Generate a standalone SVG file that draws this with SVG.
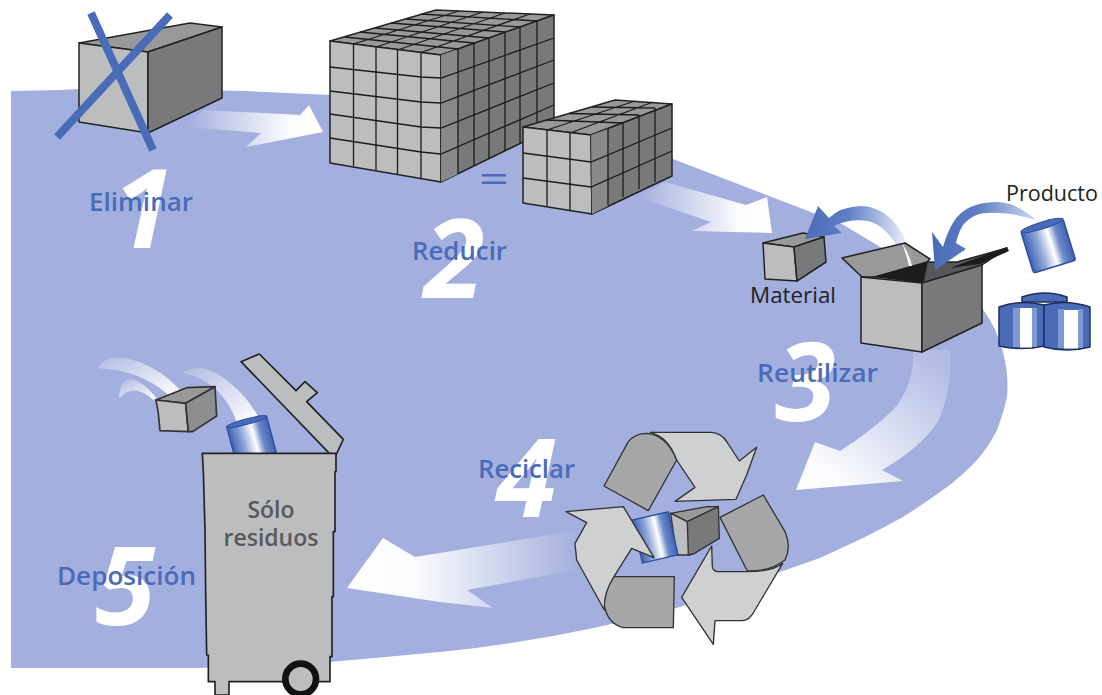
<svg xmlns="http://www.w3.org/2000/svg" width="1102" height="695" viewBox="0 0 1102 695">
<style>
.lbl{font-family:"Open Sans","Liberation Sans",sans-serif;font-weight:600;font-size:25px;fill:#4a6cb8}
.num{font-family:"Open Sans","Liberation Sans",sans-serif;font-weight:700;font-style:italic;font-size:110px;fill:#fff}
.cap{font-family:"Open Sans","Liberation Sans",sans-serif;font-size:21px;fill:#222}
.bin{font-family:"Open Sans","Liberation Sans",sans-serif;font-weight:600;font-size:23px;fill:#58595b;text-anchor:middle}
.e{stroke:#222;stroke-width:1.5;stroke-linejoin:round}
.g{fill:none;stroke:#1c1c1c;stroke-width:1.3}
.fr{fill:#bcbdbf}.si{fill:#77797b}.to{fill:#98999b}.md{fill:#a6a7a9}.lt{fill:#cfd0d2}
.bl{fill:#4a6cb8}
.cn{stroke:#1d2f60;stroke-width:1.500}
</style>
<defs>
<linearGradient id="wr" x1="0" x2="1" y1="0" y2="0"><stop offset="0" stop-color="#fff" stop-opacity="0"/><stop offset=".75" stop-color="#fff" stop-opacity=".95"/><stop offset="1" stop-color="#fff"/></linearGradient>
<linearGradient id="wl" x1="1" x2="0" y1="0" y2="0"><stop offset="0" stop-color="#fff" stop-opacity="0"/><stop offset=".7" stop-color="#fff" stop-opacity=".95"/><stop offset="1" stop-color="#fff"/></linearGradient>
<linearGradient id="wd" gradientUnits="userSpaceOnUse" x1="935" y1="355" x2="835" y2="480"><stop offset="0" stop-color="#fff" stop-opacity=".15"/><stop offset="1" stop-color="#fff" stop-opacity=".97"/></linearGradient>
<linearGradient id="tr" x1="0" x2="1" y1="0" y2="1"><stop offset="0" stop-color="#fff" stop-opacity=".15"/><stop offset="1" stop-color="#fff"/></linearGradient>
<linearGradient id="bw" x1="0" x2="1" y1="0" y2="0"><stop offset="0" stop-color="#4a6cb8"/><stop offset=".4" stop-color="#5f7fc4"/><stop offset=".75" stop-color="#b9c6e8"/><stop offset="1" stop-color="#fff"/></linearGradient>
<linearGradient id="bw2" x1="0" x2="1" y1="0" y2="0"><stop offset="0" stop-color="#4a6cb8"/><stop offset=".45" stop-color="#5f7fc4"/><stop offset="1" stop-color="#cfd8f0"/></linearGradient>
<linearGradient id="can" x1="0" x2="1" y1="0" y2="0"><stop offset="0" stop-color="#3f63b3"/><stop offset=".3" stop-color="#8ea6d9"/><stop offset=".58" stop-color="#fff"/><stop offset=".76" stop-color="#6d8acb"/><stop offset="1" stop-color="#3f63b3"/></linearGradient>
</defs>

<path id="ground" fill="#a3afdf" d="M11 91 L60 90 L100 88 L245 91 L330 95 L520 120 L673 159 L842 224 L982 308 Q997 328 1003 352 Q1009 375 1007 397 Q1003 415 997 430 Q989 446 977 460 Q963 475 947 487 Q925 503 903 517 Q883 528 863 538 L820 558 L680 607 Q560 640 440 652 L330 662 L200 668 L11 668 Z"/>

<g id="numbers">
<text x="113" y="248" class="num">1</text>
<text x="424" y="298" class="num">2</text>
<text x="775" y="421" class="num">3</text>
<text x="496" y="517" class="num">4</text>
<text x="95" y="625" class="num">5</text>
</g>

<g id="connectors">
<path fill="url(#wr)" d="M186 127 L204 110 L300 115 L309 105 L323 132 L246 147 L261 133 Z"/>
<path fill="url(#wr)" d="M638 197 L665 182 L746 205 L767 197 L772 233 L692 231 L711 222 Z"/>
<path fill="url(#wd)" d="M913 350 L950 350 Q953 390 937 423 Q920 448 882 470 L903 481 L796 490 L815 442 L840 451 Q870 432 893 410 Q915 385 913 350 Z"/>
<path fill="url(#wl)" d="M347 588 L383 538 L415 557 L580 530 L577 570 L467 590 L493 608 L440 602 Z"/>
</g>

<g id="node-eliminar">
<polygon class="to e" points="79,43 190,23 222,27 148,52"/>
<polygon class="fr e" points="79,43 148,52 148,133 79,122"/>
<polygon class="si e" points="148,52 222,27 222,98 148,133"/>
<path d="M91 13 L153 150 M170 15 L57 137" stroke="#4a6cb8" stroke-width="8" fill="none"/>
</g>

<g id="node-reducir-grande">
<polygon class="to e" points="330,41 436,10 554,15 441,55"/>
<polygon class="fr e" points="330,41 441,55 441,182 330,163"/>
<polygon class="si e" points="441,55 554,15 554,127 441,182"/>
<polygon fill="#87898b" points="441,55 458,49 458,174 441,182"/>
<path class="g" d="M353.500 44 L459 11 M376 47 L483 12 M397.500 50 L505 13 M421 52.500 L530 14 M345 37 L458 49 M360 32 L474 43 M375 28 L489 38 M391 23 L505 32 M406 19 L520 27 M421 14 L537 21"/>
<path class="g" d="M353.500 44 V166 M376 47 V170 M397.500 50 V174 M421 52.500 V179"/>
<path class="g" d="M330 67 L421 77 L441 78 L554 38 M330 91 L421 102 L441 103 L554 60 M330 114 L421 127 L441 128 L554 83 M330 138 L421 152 L441 154 L554 105"/>
<path class="g" d="M458 49 V174 M474 43 V166 M489 38 V159 M505 32 V151 M520 27 V143.500 M537 21 V135"/>
</g>

<text id="igual" x="479" y="192" font-family="Open Sans,Liberation Sans,sans-serif" font-size="36" fill="#4a6cb8" textLength="30" lengthAdjust="spacingAndGlyphs">=</text>

<g id="node-reducir-pequeno">
<polygon class="to e" points="523,127 615,100 672,104 591,135"/>
<polygon class="fr e" points="523,127 591,135 592,214 523,203"/>
<polygon class="si e" points="591,135 672,104 672,176 592,214"/>
<polygon fill="#87898b" points="591,135 608,129 608,206 592,214"/>
<path class="g" d="M547 130 L635 101 M570 133 L653 102 M546 120 L623 123 M569 113.500 L639 115 M592 107 L655 108"/>
<path class="g" d="M547 130 V207 M570 133 V211"/>
<path class="g" d="M523 153 L591 162 L672 128 M523 178 L591 187 L672 151"/>
<path class="g" d="M608 129 V205 M623 123 V197 M639 115 V189 M655 108 V182"/>
</g>

<g id="node-material">
<polygon class="to e" points="763,243 803,233 824,237 794,247"/>
<polygon class="fr e" points="763,243 794,247 797,281 765,279"/>
<polygon class="si e" points="794,247 824,237 826,262 797,281"/>
<path fill="url(#bw)" d="M913 268 C909 235 890 206 860 206 Q840 207 829 218 L818 206 L805 239 L842 233 L834 226 Q850 218 868 221 C885 225 900 245 906 268 Z"/>
<text x="750" y="303" class="cap" textLength="86" lengthAdjust="spacingAndGlyphs">Material</text>
</g>

<g id="node-caja">
<polygon class="to e" points="842,258 905,243 930,259 927,262 875,277 862,277"/>
<polygon fill="#1c1c1c" points="872,277 927,262 927,279 923,283"/>
<polygon fill="#55575a" class="e" points="923,283 927,262 957,262 1007,248 982,265"/>
<polygon fill="#1c1c1c" points="950,268 1007,247 1009,251 980,264"/>
<polygon class="fr e" points="861,277 922,283 922,352 861,343"/>
<polygon class="si e" points="922,283 982,265 982,323 922,352"/>
<path fill="#fff" fill-opacity=".9" d="M902 243 Q910 255 912 266 L909 266 Q906 254 902 243 Z"/>
<path fill="url(#bw2)" d="M1036 220 C1020 206 1008 202 995 202 C980 203 968 205 957 217 C950 226 946 237 943 247 L932 232 L935 270 L966 249 L956 243 C958 235 960 230 963 225 C970 217 978 213 987 213 C1005 212 1020 215 1036 220 Z"/>
<text x="1006" y="201" class="cap" textLength="92" lengthAdjust="spacingAndGlyphs">Producto</text>
</g>

<g id="node-latas">
<g transform="translate(1042 225.500) rotate(-17)">
<rect x="-22" y="0" width="44" height="43" rx="2" fill="url(#can)" stroke="#2d4f9e" stroke-width="1.500"/>
<ellipse cx="0" cy="0" rx="22" ry="3.500" fill="#4a6cb8" stroke="#2d4f9e"/>
</g>
<path class="bl cn" d="M1022 302 V297 Q1045 289 1067 297 V302 Z"/>
<path class="bl cn" d="M999 307 Q1021 299 1044 305 V346 Q1021 351 999 346 Z"/>
<rect x="1013" y="308" width="7" height="39" fill="#7d98d3"/>
<rect x="1020" y="308" width="12" height="39.500" fill="#fff"/>
<rect x="1032" y="308" width="5" height="39" fill="#7d98d3"/>
<path class="bl cn" d="M1044 305 Q1067 299 1090 307 V347 Q1067 353 1044 347 Z"/>
<rect x="1058" y="309" width="6" height="39" fill="#7d98d3"/>
<rect x="1064" y="310" width="14" height="38.500" fill="#fff"/>
<rect x="1078" y="309" width="5" height="39" fill="#7d98d3"/>
</g>

<g id="node-reciclar" transform="translate(460 400) scale(.33333)">
<g stroke="#333" stroke-width="4" stroke-linejoin="round">
<path class="md" d="M432 258 L505 125 Q525 100 560 100 Q620 105 650 180 L565 332 Z"/>
<path class="lt" d="M570 97 L755 97 Q785 100 800 125 L838 183 L890 142 L860 225 L828 298 L645 304 L705 262 L650 180 Q625 110 570 97 Z"/>
<path class="md" d="M780 352 L910 285 L975 395 Q995 440 975 480 Q930 515 862 513 Z"/>
<path class="lt" d="M755 438 L757 500 Q760 515 775 515 L862 515 Q940 515 968 490 L885 630 Q870 662 845 662 L765 662 L760 733 L665 592 Z"/>
<path class="md" d="M462 530 L643 530 L640 683 L490 683 Q440 670 432 610 Q435 565 462 530 Z"/>
</g>
<g stroke="#333" stroke-width="4">
<polygon class="to" points="632,340 740,320 775,320 682,365"/>
<polygon class="fr" points="632,340 682,365 690,465 650,465"/>
<polygon class="si" points="682,365 775,320 778,415 700,462 685,465"/>
</g>
<g transform="translate(571 348) rotate(-13)">
<rect x="-55" y="0" width="110" height="132" fill="url(#can)" stroke="#2d4f9e" stroke-width="4"/>
</g>
<path class="lt" stroke="#333" stroke-width="4" stroke-linejoin="round" d="M318 335 L490 320 L582 473 L515 445 L462 530 Q430 580 433 630 L350 480 L345 430 L380 368 Z"/>
</g>

<g id="node-deposicion" transform="translate(40 340) scale(.33333)">
<path fill="url(#tr)" d="M175 85 Q190 45 260 55 Q350 75 420 150 L385 165 Q300 90 175 85 Z"/>
<path fill="url(#tr)" d="M238 175 Q235 115 280 118 Q320 135 350 175 L340 180 Q280 125 238 175 Z"/>
<path fill="url(#tr)" d="M425 100 Q470 70 530 100 Q610 150 655 230 L590 245 Q570 190 530 150 Q480 105 425 100 Z"/>
<g stroke="#333" stroke-width="5" stroke-linejoin="round">
<polygon class="to" points="348,180 440,143 525,140 437,190"/>
<polygon class="fr" points="348,180 437,190 445,275 360,272 355,220"/>
<polygon fill="#8c8e90" points="437,190 525,140 530,228 458,275 445,275"/>
</g>
<g transform="translate(620 245) rotate(-15)">
<rect x="-62" y="0" width="124" height="130" fill="url(#can)" stroke="#2d4f9e" stroke-width="4"/>
<ellipse cx="0" cy="0" rx="62" ry="8" fill="#4a6cb8" stroke="#2d4f9e" stroke-width="3"/>
</g>
<g fill="#bcbdbf" stroke="#222" stroke-width="5" stroke-linejoin="round">
<path d="M603 65 L658 42 L768 152 L795 125 L832 158 L800 185 L910 298 L888 345 L868 340 Z"/>
<path d="M487 340 L888 340 L888 395 L885 395 L885 575 L880 575 L880 770 L876 770 L876 950 L870 950 L870 1025 L567 1025 L567 1065 L525 1065 L525 1025 L505 1025 L505 945 L500 945 L497 760 L495 570 L490 395 Z"/>
<circle cx="782" cy="1017" r="46" stroke="#111" stroke-width="20" fill="#bcbdbf"/>
</g>
</g>
<g id="node-bin-text">
<text x="271" y="518" class="bin">Sólo</text>
<text x="271" y="546" class="bin">residuos</text>
</g>

<g id="labels">
<text x="89" y="211" class="lbl" textLength="104" lengthAdjust="spacingAndGlyphs">Eliminar</text>
<text x="412" y="260" class="lbl" textLength="95" lengthAdjust="spacingAndGlyphs">Reducir</text>
<text x="757" y="382" class="lbl" textLength="121" lengthAdjust="spacingAndGlyphs">Reutilizar</text>
<text x="478" y="478" class="lbl" textLength="97" lengthAdjust="spacingAndGlyphs">Reciclar</text>
<text x="57" y="585" class="lbl" textLength="139" lengthAdjust="spacingAndGlyphs">Deposición</text>
</g>
</svg>
